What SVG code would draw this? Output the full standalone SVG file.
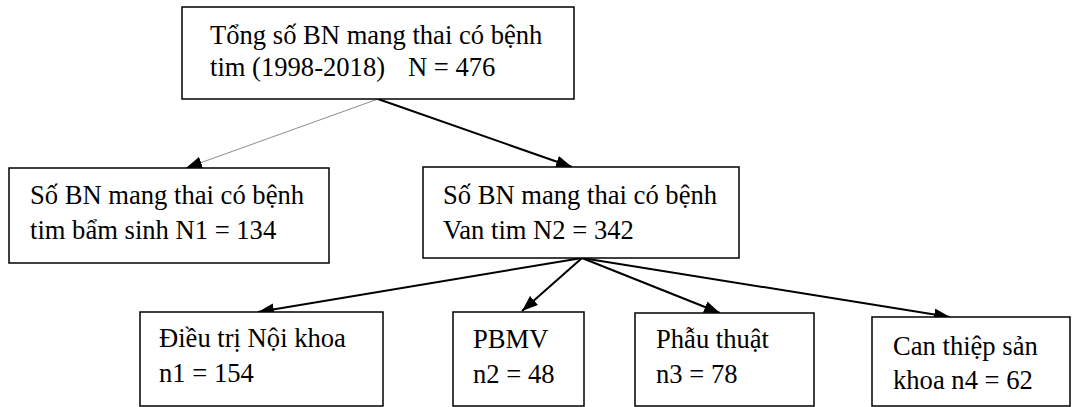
<svg xmlns="http://www.w3.org/2000/svg" width="1072" height="407" viewBox="0 0 1072 407">
  <style>
    .box { fill: #ffffff; stroke: #000000; stroke-width: 1.5; }
    .txt { font-family: "Liberation Serif", "Times New Roman", serif; font-size: 26.6px; fill: #000000; }
    .conn { fill: none; stroke: #000000; stroke-width: 2; }
    .thin { fill: none; stroke: #8c8c8c; stroke-width: 1; }
  </style>
  <defs>
    <marker id="arr" viewBox="0 0 16 12" refX="16" refY="6" markerWidth="16" markerHeight="12" markerUnits="userSpaceOnUse" orient="auto">
      <path d="M0,0 L16,6 L0,12 Z" fill="#000000"/>
    </marker>
  </defs>
  <rect width="1072" height="407" fill="#ffffff"/>

  <g id="connectors">
    <line class="thin" x1="378" y1="99" x2="186" y2="168" marker-end="url(#arr)"/>
    <line class="conn" x1="378" y1="99" x2="572" y2="167" marker-end="url(#arr)"/>
    <line class="conn" x1="582" y1="258" x2="258" y2="312" marker-end="url(#arr)"/>
    <line class="conn" x1="582" y1="258" x2="522" y2="311" marker-end="url(#arr)"/>
    <line class="conn" x1="582" y1="258" x2="720" y2="313" marker-end="url(#arr)"/>
    <line class="conn" x1="582" y1="258" x2="950" y2="317" marker-end="url(#arr)"/>
  </g>

  <g id="node-total">
    <rect class="box" x="182" y="7" width="392" height="92"/>
    <text class="txt" x="210" y="44">Tổng số BN mang thai có bệnh</text>
    <text class="txt" x="210" y="76">tim (1998-2018)<tspan x="408">N = 476</tspan></text>
  </g>

  <g id="node-congenital">
    <rect class="box" x="9" y="168" width="320" height="95"/>
    <text class="txt" x="30" y="204">Số BN mang thai có bệnh</text>
    <text class="txt" x="30" y="239">tim bẩm sinh N1 = 134</text>
  </g>

  <g id="node-valve">
    <rect class="box" x="423" y="167" width="316" height="91"/>
    <text class="txt" x="443" y="204">Số BN mang thai có bệnh</text>
    <text class="txt" x="443" y="239">Van tim N2 = 342</text>
  </g>

  <g id="node-medical">
    <rect class="box" x="140" y="312" width="243" height="94"/>
    <text class="txt" x="159" y="347">Điều trị Nội khoa</text>
    <text class="txt" x="159" y="382">n1 = 154</text>
  </g>

  <g id="node-pbmv">
    <rect class="box" x="453" y="312" width="131" height="94"/>
    <text class="txt" x="473" y="348">PBMV</text>
    <text class="txt" x="473" y="383">n2 = 48</text>
  </g>

  <g id="node-surgery">
    <rect class="box" x="635" y="313" width="179" height="93"/>
    <text class="txt" x="656" y="348">Phẫu thuật</text>
    <text class="txt" x="656" y="383">n3 = 78</text>
  </g>

  <g id="node-obstetric">
    <rect class="box" x="872" y="317" width="198" height="89"/>
    <text class="txt" x="893" y="355">Can thiệp sản</text>
    <text class="txt" x="893" y="389">khoa n4 = 62</text>
  </g>
</svg>
